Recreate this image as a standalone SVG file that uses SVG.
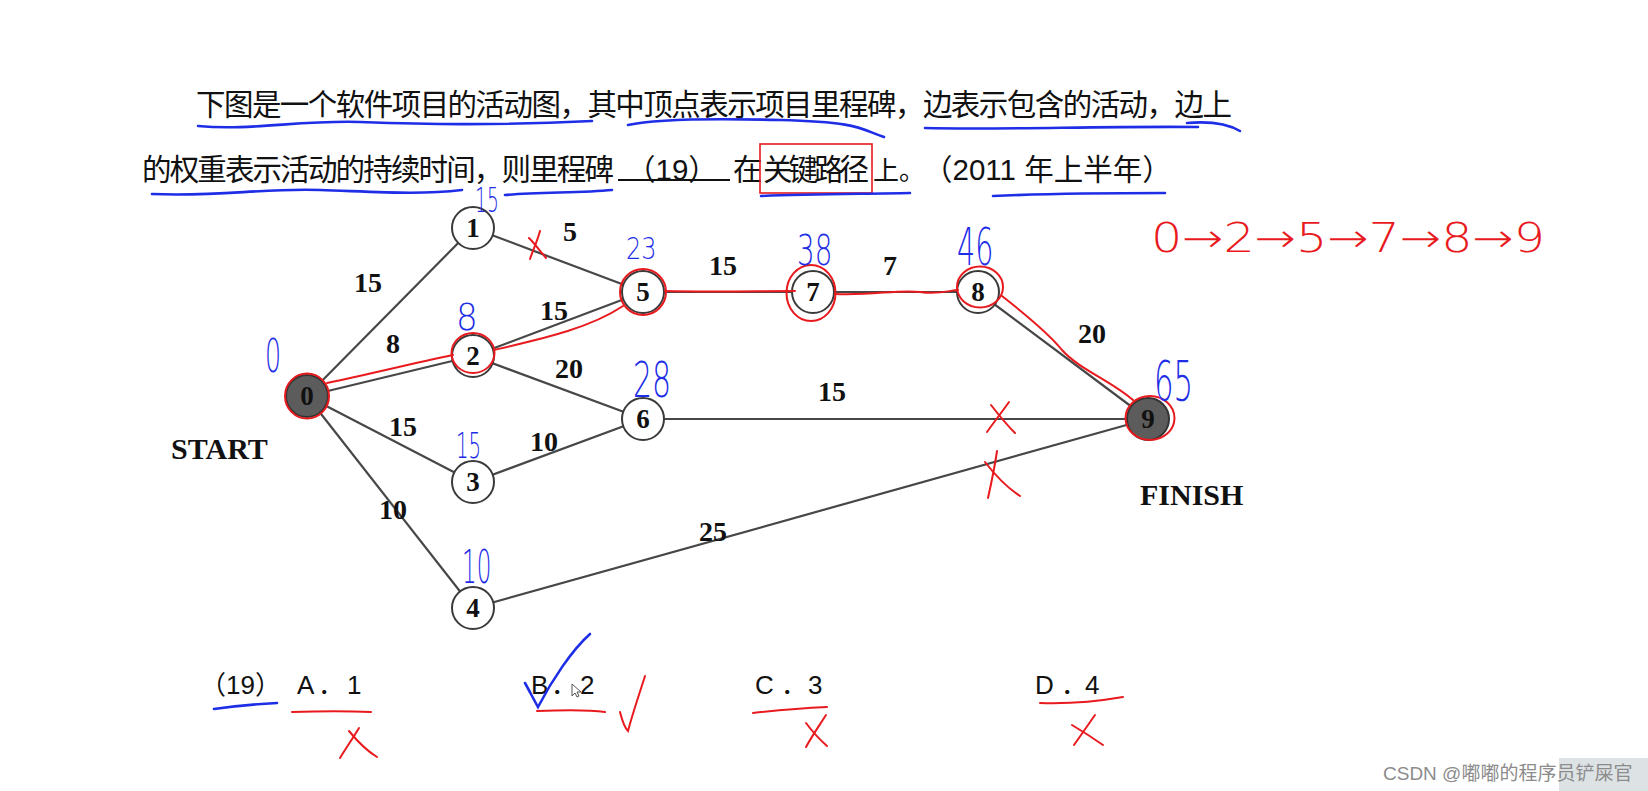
<svg xmlns="http://www.w3.org/2000/svg" width="1648" height="791" viewBox="0 0 1648 791">
<style>
.q{font-family:"Liberation Sans","Noto Sans CJK SC",sans-serif;font-size:29.5px;fill:#111}
.opt{font-family:"Liberation Sans","Noto Sans CJK SC",sans-serif;font-size:26px;fill:#111}
.edge{stroke:#474747;stroke-width:2.2;fill:none}
.nc{fill:#fff;stroke:#3a3a3a;stroke-width:2}
.nd{fill:#5c5c5c;stroke:#333;stroke-width:2}
.nt{font-family:"Liberation Serif",serif;font-weight:bold;font-size:27px;fill:#111;text-anchor:middle}
.el{font-family:"Liberation Serif",serif;font-weight:bold;font-size:28px;fill:#111;text-anchor:middle}
.big{font-family:"Liberation Serif",serif;font-weight:bold;font-size:30px;fill:#111}
.hb{font-family:"DejaVu Sans",sans-serif;font-weight:200;fill:#1e2de6}
.hr{font-family:"DejaVu Sans",sans-serif;font-weight:200;fill:#e81a1e}
.sb{stroke:#1e2de6;stroke-width:2.6;fill:none;stroke-linecap:round}
.sr{stroke:#e81a1e;stroke-width:2;fill:none;stroke-linecap:round}
</style>
<rect width="1648" height="791" fill="#fff"/>

<!-- question text -->
<g id="question">
<text class="q" x="196" y="115" textLength="1036" lengthAdjust="spacing">下图是一个软件项目的活动图，其中顶点表示项目里程碑，边表示包含的活动，边上</text>
<text class="q" x="142" y="180" textLength="472" lengthAdjust="spacing">的权重表示活动的持续时间，则里程碑</text>
<line x1="618" y1="180" x2="730" y2="180" stroke="#111" stroke-width="2"/>
<text class="q" x="626" y="180">（19）</text>
<text class="q" x="733" y="180">在</text>
<text class="q" x="763" y="180" textLength="106" lengthAdjust="spacing">关键路径</text>
<text class="q" x="873" y="180"><tspan font-size="26">上。</tspan><tspan x="923">（2011 年上半年）</tspan></text>
<rect x="760" y="144" width="112" height="49" fill="none" stroke="#e81a1e" stroke-width="1.6"/>
</g>

<g id="underlines">
<path class="sb" d="M198,126 C250,131 300,120 360,122 S490,126 592,121"/>
<path class="sb" d="M628,125 C650,120 700,118 780,120 S860,129 884,137"/>
<path class="sb" d="M925,128 C1000,130 1100,126 1198,127"/>
<path class="sb" d="M1187,123 C1210,121 1228,124 1240,131"/>
<path class="sb" d="M152,194 C220,197 260,188 320,190 S420,195 462,190"/>
<path class="sb" d="M505,195 C540,192 580,193 612,190"/>
<path class="sb" d="M761,196 C810,194 860,194 910,193"/>
<path class="sb" d="M993,196 C1060,193 1110,193 1165,193"/>
</g>

<!-- connectors -->
<g id="connectors">
<line class="edge" x1="307" y1="396" x2="473" y2="228"/>
<line class="edge" x1="307" y1="396" x2="473" y2="356"/>
<line class="edge" x1="307" y1="396" x2="473" y2="482"/>
<line class="edge" x1="307" y1="396" x2="473" y2="608"/>
<line class="edge" x1="473" y1="228" x2="643" y2="292"/>
<line class="edge" x1="473" y1="356" x2="643" y2="292"/>
<line class="edge" x1="473" y1="356" x2="643" y2="419"/>
<line class="edge" x1="473" y1="482" x2="643" y2="419"/>
<line class="edge" x1="473" y1="608" x2="1148" y2="419"/>
<line class="edge" x1="643" y1="292" x2="813" y2="292"/>
<line class="edge" x1="813" y1="292" x2="978" y2="292"/>
<line class="edge" x1="978" y1="292" x2="1148" y2="419"/>
<line class="edge" x1="643" y1="419" x2="1148" y2="419"/>
<text class="el" x="368" y="292">15</text>
<text class="el" x="570" y="241">5</text>
<text class="el" x="393" y="353">8</text>
<text class="el" x="554" y="320">15</text>
<text class="el" x="569" y="378">20</text>
<text class="el" x="403" y="436">15</text>
<text class="el" x="544" y="451">10</text>
<text class="el" x="393" y="519">10</text>
<text class="el" x="723" y="275">15</text>
<text class="el" x="890" y="275">7</text>
<text class="el" x="832" y="401">15</text>
<text class="el" x="1092" y="343">20</text>
<text class="el" x="713" y="541">25</text>
</g>

<g id="node0"><circle class="nd" cx="307" cy="396" r="21"/><text class="nt" x="307" y="405">0</text></g>
<g id="node1"><circle class="nc" cx="473" cy="228" r="21"/><text class="nt" x="473" y="237">1</text></g>
<g id="node2"><circle class="nc" cx="473" cy="356" r="21"/><text class="nt" x="473" y="365">2</text></g>
<g id="node3"><circle class="nc" cx="473" cy="482" r="21"/><text class="nt" x="473" y="491">3</text></g>
<g id="node4"><circle class="nc" cx="473" cy="608" r="21"/><text class="nt" x="473" y="617">4</text></g>
<g id="node5"><circle class="nc" cx="643" cy="292" r="21"/><text class="nt" x="643" y="301">5</text></g>
<g id="node6"><circle class="nc" cx="643" cy="419" r="21"/><text class="nt" x="643" y="428">6</text></g>
<g id="node7"><circle class="nc" cx="813" cy="292" r="21"/><text class="nt" x="813" y="301">7</text></g>
<g id="node8"><circle class="nc" cx="978" cy="292" r="21"/><text class="nt" x="978" y="301">8</text></g>
<g id="node9"><circle class="nd" cx="1148" cy="419" r="21"/><text class="nt" x="1148" y="428">9</text></g>
<text class="big" x="171" y="459">START</text>
<text class="big" x="1140" y="505">FINISH</text>

<!-- red critical path annotations -->
<g id="critical-path">
<ellipse class="sr" cx="307" cy="396" rx="22" ry="22.5"/>
<path class="sr" d="M327,383 C370,374 410,364 453,355"/>
<ellipse class="sr" cx="473" cy="353" rx="21.5" ry="20"/>
<path class="sr" d="M494,350 C545,338 590,328 623,306"/>
<ellipse class="sr" cx="643" cy="292" rx="23" ry="23"/>
<path class="sr" d="M665,291 C710,292 760,291 795,291"/>
<ellipse class="sr" cx="811" cy="293" rx="24.5" ry="28"/>
<path class="sr" d="M835,294 C870,296 900,289 920,292 S950,290 958,290"/>
<ellipse class="sr" cx="980" cy="287" rx="23" ry="20.5"/>
<path class="sr" d="M1002,296 C1030,318 1050,335 1062,350 C1080,370 1110,380 1133,400"/>
<ellipse class="sr" cx="1150" cy="418" rx="24.5" ry="22"/>
</g>

<g id="cross-marks">
<path class="sr" d="M540,231 C537,242 533,250 530,259"/>
<path class="sr" d="M529,238 C535,244 540,251 546,258"/>
<path class="sr" d="M1009,402 C1002,412 994,422 987,432"/>
<path class="sr" d="M991,405 C998,414 1006,424 1015,433"/>
<path class="sr" d="M997,451 C995,465 992,480 988,498"/>
<path class="sr" d="M985,462 C995,475 1006,487 1020,496"/>
</g>

<!-- handwritten values -->
<g id="values">
<text class="hb" font-size="46" transform="translate(265,372) scale(0.55,1)">0</text>
<text class="hb" font-size="34" transform="translate(475,212) scale(0.55,1)">15</text>
<text class="hb" font-size="38" transform="translate(456,330) scale(0.9,1)">8</text>
<text class="hb" font-size="36" transform="translate(456,458) scale(0.55,1)">15</text>
<text class="hb" font-size="46" transform="translate(462,583) scale(0.5,1)">10</text>
<text class="hb" font-size="30" transform="translate(626,259) scale(0.8,1)">23</text>
<text class="hb" font-size="42" transform="translate(797,265) scale(0.66,1)">38</text>
<text class="hb" font-size="52" transform="translate(957,265) scale(0.55,1)">46</text>
<text class="hb" font-size="50" transform="translate(633,397) scale(0.6,1)">28</text>
<text class="hb" font-size="56" transform="translate(1154,400) scale(0.55,1)">65</text>
<text class="hr" font-size="40" x="1151" y="252" textLength="394" lengthAdjust="spacingAndGlyphs">0→2→5→7→8→9</text>
</g>

<!-- options -->
<g id="options">
<text class="opt" x="200" y="694">（19）</text>
<text class="opt" y="694"><tspan x="297">A</tspan><tspan x="318">．</tspan><tspan x="347">1</tspan></text>
<text class="opt" y="694"><tspan x="531">B</tspan><tspan x="551">．</tspan><tspan x="580">2</tspan></text>
<text class="opt" y="694"><tspan x="755">C</tspan><tspan x="781">．</tspan><tspan x="808">3</tspan></text>
<text class="opt" y="694"><tspan x="1035">D</tspan><tspan x="1061">．</tspan><tspan x="1085">4</tspan></text>
<path class="sb" d="M214,709 C235,706 258,704 277,703"/>
<path class="sr" d="M292,712 C320,711 350,711 371,712"/>
<path class="sr" d="M537,711 C560,710 585,709 605,712"/>
<path class="sr" d="M753,713 C780,710 805,708 827,707"/>
<path class="sr" d="M1040,703 C1070,704 1100,701 1123,697"/>
<path class="sb" d="M525,683 C530,692 534,700 538,707 C552,680 572,650 590,634"/>
<path class="sr" d="M620,712 C622,720 625,728 628,731 C633,712 639,695 645,676"/>
<path class="sr" d="M359,728 C353,738 346,748 340,758"/>
<path class="sr" d="M349,731 C358,742 367,751 377,757"/>
<path class="sr" d="M826,715 C819,726 812,736 806,747"/>
<path class="sr" d="M806,723 C812,731 819,739 827,746"/>
<path class="sr" d="M1095,715 C1088,725 1081,735 1074,745"/>
<path class="sr" d="M1072,725 C1082,731 1093,738 1103,745"/>
<path d="M572,684 L572,696 L575,693 L577,697 L579,696 L577,692 L581,692 Z" fill="#fff" stroke="#555" stroke-width="1"/>
</g>

<!-- watermark -->
<rect x="1559" y="758" width="89" height="33" fill="#dde2e5"/>
<text x="1383" y="780" font-family="Liberation Sans,'Noto Sans CJK SC',sans-serif" font-size="19" fill="#8c8c8c">CSDN @嘟嘟的程序员铲屎官</text>
</svg>
